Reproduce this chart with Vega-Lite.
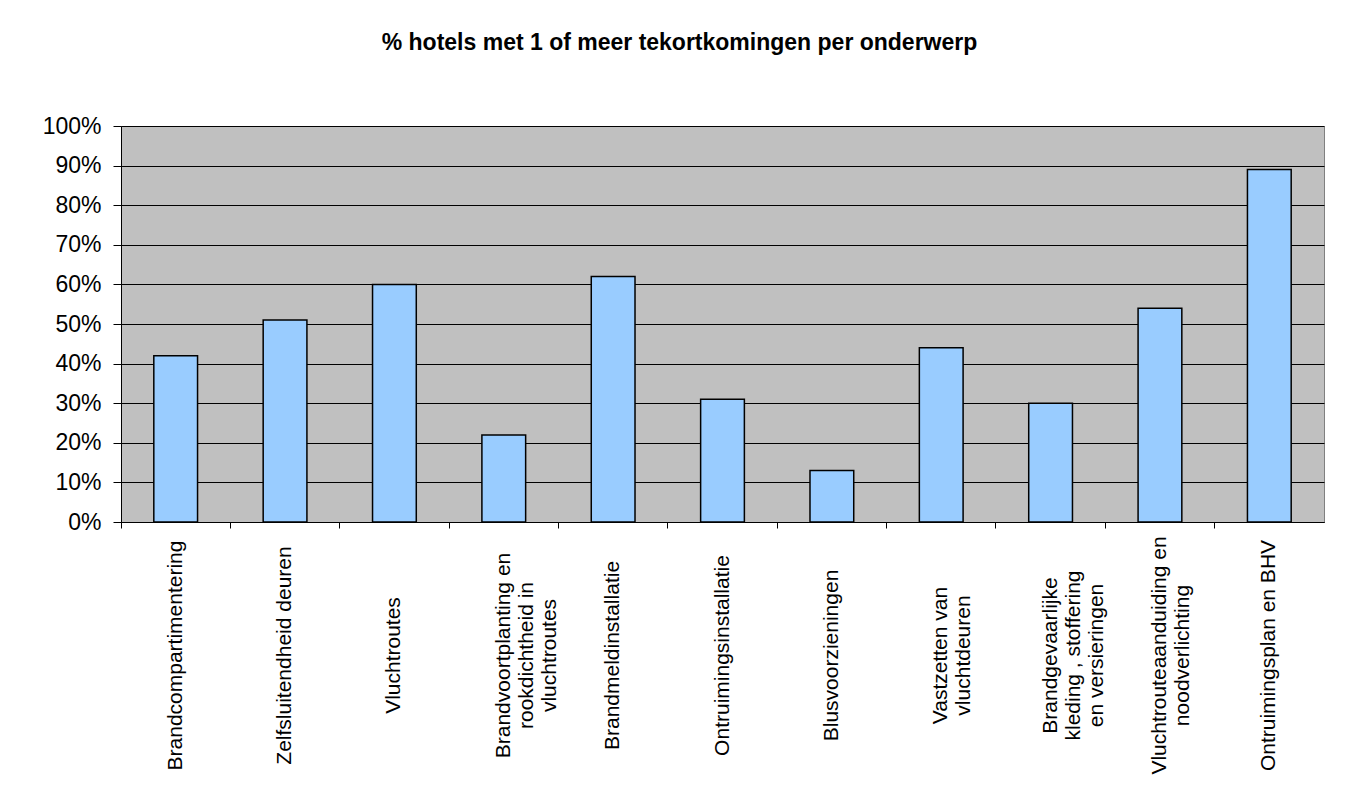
{
  "$schema": "https://vega.github.io/schema/vega-lite/v6.json",
  "width": 1203,
  "height": 396,
  "padding": {"left": 42, "top": 32, "right": 38, "bottom": 5},
  "background": "white",
  "title": {
    "text": "% hotels met 1 of meer tekortkomingen per onderwerp",
    "font": "Liberation Sans",
    "fontSize": 23,
    "fontWeight": "bold",
    "color": "black",
    "anchor": "middle",
    "offset": 60,
    "dx": -43
  },
  "data": {
    "values": [
      {"onderwerp": "Brandcompartimentering", "pct": 0.42},
      {"onderwerp": "Zelfsluitendheid deuren", "pct": 0.51},
      {"onderwerp": "Vluchtroutes", "pct": 0.60},
      {"onderwerp": "Brandvoortplanting en\nrookdichtheid in\nvluchtroutes", "pct": 0.22},
      {"onderwerp": "Brandmeldinstallatie", "pct": 0.62},
      {"onderwerp": "Ontruimingsinstallatie", "pct": 0.31},
      {"onderwerp": "Blusvoorzieningen", "pct": 0.13},
      {"onderwerp": "Vastzetten van\nvluchtdeuren", "pct": 0.44},
      {"onderwerp": "Brandgevaarlijke\nkleding , stoffering\nen versieringen", "pct": 0.30},
      {"onderwerp": "Vluchtrouteaanduiding en\nnoodverlichting", "pct": 0.54},
      {"onderwerp": "Ontruimingsplan en BHV", "pct": 0.89}
    ]
  },
  "mark": {"type": "bar", "color": "#99CCFF", "stroke": "black", "strokeWidth": 1.5, "width": {"band": 0.4}},
  "encoding": {
    "x": {
      "field": "onderwerp",
      "type": "nominal",
      "sort": null,
      "scale": {"paddingInner": 0, "paddingOuter": 0},
      "axis": {
        "title": null,
        "bandPosition": 0,
        "labelAngle": -90,
        "labelAlign": "center",
        "labelBaseline": "middle",
        "labelPadding": 127,
        "labelExpr": "split(datum.value, '\\n')",
        "labelLineHeight": 23,
        "labelFont": "Liberation Sans",
        "labelFontSize": 21,
        "labelColor": "black",
        "labelOverlap": false,
        "labelLimit": 400,
        "tickSize": 6,
        "tickColor": "black",
        "domainColor": "black",
        "domainWidth": 1,
        "grid": false
      }
    },
    "y": {
      "field": "pct",
      "type": "quantitative",
      "scale": {"domain": [0, 1], "nice": false},
      "axis": {
        "title": null,
        "format": ".0%",
        "values": [0, 0.1, 0.2, 0.3, 0.4, 0.5, 0.6, 0.7, 0.8, 0.9, 1],
        "labelFont": "Liberation Sans",
        "labelFontSize": 23,
        "labelColor": "black",
        "labelPadding": 12,
        "tickSize": 8,
        "tickColor": "black",
        "domainColor": "black",
        "grid": true,
        "gridColor": "black",
        "gridWidth": 1,
        "gridOpacity": 1
      }
    }
  },
  "config": {
    "view": {"fill": "#C0C0C0", "stroke": "#808080", "strokeWidth": 1}
  }
}
